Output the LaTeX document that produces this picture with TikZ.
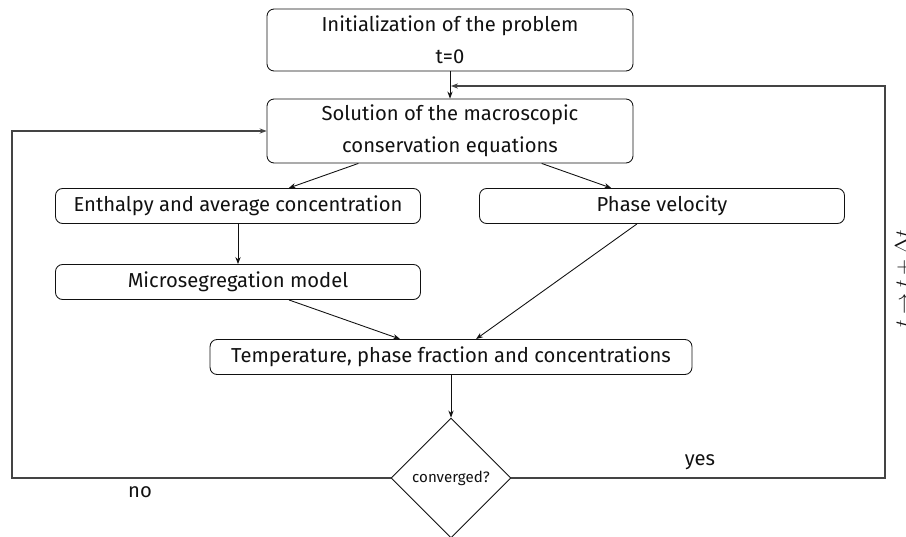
\documentclass[tikz,border=0pt]{standalone}
\usepackage{amsmath,amssymb}
\usepackage{fontspec}
\setmainfont{Fira Sans}
\usepackage{xcolor}
\usepackage{tikz}
\usetikzlibrary{arrows.meta,positioning,calc,shapes.geometric}
\definecolor{cInk}{HTML}{111111}
\definecolor{cLine}{HTML}{444444}
\tikzset{
  fbox/.style={draw=cInk,rounded corners=4pt,line width=0.5pt,align=center,inner sep=2pt,text=cInk,minimum width=7.3cm,minimum height=0.7cm},
  qbox/.style={draw=cInk,diamond,aspect=1,line width=0.5pt,inner sep=0pt,minimum width=2.4cm,minimum height=2.4cm,font=\fontsize{8.6pt}{10pt}\selectfont,text=cInk},
  arr/.style={-{Stealth[length=4pt,width=3pt]},line width=0.5pt,color=cInk},
  larr/.style={-{Stealth[length=4pt,width=3pt]},line width=0.6pt,color=cLine},
  lbl/.style={text=cInk,inner sep=1pt},
}

\begin{document}
\begin{tikzpicture}[x=0.02cm,y=-0.02cm,font=\fontsize{11.5pt}{18pt}\selectfont]
        \useasboundingbox (0,0) rectangle (906,537);
        % boxes
        \node[fbox,minimum width=7.32cm,minimum height=1.24cm] (init) at (450,40) {Initialization of the problem\\t=0};
        \node[fbox,minimum width=7.32cm,minimum height=1.28cm] (sol) at (450,131) {Solution of the macroscopic\\conservation equations};
        \node[fbox] (enth) at (238,206) {Enthalpy and average concentration};
        \node[fbox] (phase) at (662,206) {Phase velocity};
        \node[fbox] (micro) at (238,282) {Microsegregation model};
        \node[fbox,minimum width=9.64cm] (temp) at (451,357) {Temperature, phase fraction and concentrations};
        \node[qbox] (conv) at (451,478) {converged?};
        % flow
        \draw[arr] (init) -- (sol);
        \draw[arr] (sol) -- (enth);
        \draw[arr] (sol) -- (phase);
        \draw[arr] (enth) -- (micro);
        \draw[arr] (micro) -- (temp);
        \draw[arr] (phase) -- (temp);
        \draw[arr] (temp) -- (conv);
        % loops
        \coordinate (noturn) at (12,478);
        \coordinate (yesturn) at (885,478);
        \coordinate (back) at (451,86);
        \draw[larr] (conv.west) -- (noturn) |- (sol.west);
        \draw[larr] (conv.east) -- (yesturn) |- (back);
        \node[lbl] (no) at (140,492) {no};
        \node[lbl] (yes) at (700,462) {yes};
        \node[lbl,font=\large,rotate=90,anchor=north] (step) at (893,279) {$t\rightarrow t+\Delta t$};
      \end{tikzpicture}
\end{document}
